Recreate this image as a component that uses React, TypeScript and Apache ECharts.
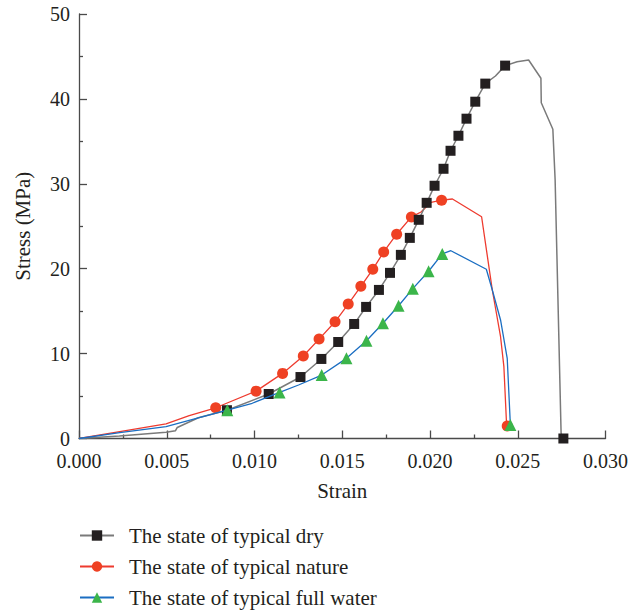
import React, { useEffect, useRef } from "react";
import * as echarts from "echarts";

const seriesNames = [
  "The state of typical dry",
  "The state of typical nature",
  "The state of typical full water",
];

// Dry
const dryStrain = [0, 0.0023, 0.00496, 0.0055, 0.0056, 0.0068, 0.00843, 0.01081, 0.01262, 0.01381, 0.01477, 0.01568, 0.01636, 0.01709, 0.01772, 0.01834, 0.01885, 0.01936, 0.01981, 0.02026, 0.02077, 0.02117, 0.02162, 0.02208, 0.02258, 0.02315, 0.02373, 0.02428, 0.02496, 0.02562, 0.02632, 0.02634, 0.027, 0.02713, 0.02747, 0.0276];
const dryStress = [0, 0.29, 0.73, 0.92, 1.3, 2.45, 3.33, 5.24, 7.24, 9.37, 11.37, 13.49, 15.5, 17.5, 19.51, 21.63, 23.63, 25.76, 27.76, 29.77, 31.77, 33.89, 35.66, 37.67, 39.67, 41.8, 42.7, 43.92, 44.38, 44.58, 42.43, 39.55, 36.42, 30.45, 0.61, 0];
const dryMarker = [0, 0, 0, 0, 0, 0, 1, 1, 1, 1, 1, 1, 1, 1, 1, 1, 1, 1, 1, 1, 1, 1, 1, 1, 1, 1, 0, 1, 0, 0, 0, 0, 0, 0, 0, 1];

// Nature
const natStrain = [0, 0.00232, 0.00496, 0.00628, 0.00779, 0.01009, 0.0116, 0.01278, 0.01368, 0.01459, 0.01534, 0.01606, 0.01674, 0.01736, 0.0181, 0.01894, 0.01949, 0.02006, 0.02066, 0.02128, 0.02294, 0.02355, 0.02402, 0.02421, 0.02436, 0.0244];
const natStress = [0, 0.82, 1.71, 2.7, 3.62, 5.58, 7.67, 9.71, 11.71, 13.75, 15.84, 17.93, 19.93, 21.97, 24.06, 26.1, 26.68, 27.82, 28.07, 28.21, 26.12, 17.49, 11.99, 8.46, 1.79, 1.47];
const natMarker = [0, 0, 0, 0, 1, 1, 1, 1, 1, 1, 1, 1, 1, 1, 1, 1, 0, 0, 1, 0, 0, 0, 0, 0, 0, 1];

// Full water
const wetStrain = [0, 0.00232, 0.00496, 0.00685, 0.00845, 0.00987, 0.01143, 0.01251, 0.01383, 0.01524, 0.01638, 0.01732, 0.01821, 0.01902, 0.01992, 0.0207, 0.02119, 0.02321, 0.02355, 0.02402, 0.0244, 0.02458];
const wetStress = [0, 0.7, 1.39, 2.45, 3.34, 4.15, 5.43, 6.3, 7.47, 9.44, 11.51, 13.57, 15.64, 17.65, 19.7, 21.74, 22.12, 19.93, 17.49, 13.96, 9.45, 1.59];
const wetMarker = [0, 0, 0, 0, 1, 0, 1, 0, 1, 1, 1, 1, 1, 1, 1, 1, 0, 0, 0, 0, 0, 1];

const xTicks = { min: 0, max: 0.03, interval: 0.005 };
const yTicks = { min: 0, max: 50, interval: 10 };

const FONT = "Liberation Serif";
const TEXT = "#231f20";
const AXIS = "#4a4a4a";

function build(xs: number[], ys: number[], ms: number[]) {
  return xs.map((x, i) =>
    ms[i] ? { value: [x, ys[i]] } : { value: [x, ys[i]], symbol: "none" }
  );
}

export default function App() {
  const ref = useRef<HTMLDivElement>(null);
  useEffect(() => {
    if (!ref.current) return;
    const chart = echarts.init(ref.current, undefined, { renderer: "svg" });
    const axisCommon = {
      axisLine: { show: true, lineStyle: { color: AXIS, width: 1.3 } },
      axisTick: { show: true, inside: true, length: 8, lineStyle: { color: AXIS, width: 1.3 } },
      minorTick: { show: true, splitNumber: 2, length: 4, lineStyle: { color: AXIS, width: 1.3 } },
      splitLine: { show: false },
      nameTextStyle: { fontFamily: FONT, fontSize: 21, color: TEXT },
    };
    chart.setOption({
      animation: false,
      backgroundColor: "#fff",
      grid: { left: 79, right: 22, top: 14, bottom: 173.5, containLabel: false },
      xAxis: {
        type: "value",
        ...xTicks,
        name: "Strain",
        nameLocation: "middle",
        nameGap: 42,
        ...axisCommon,
        axisLabel: {
          fontFamily: FONT,
          fontSize: 20,
          color: TEXT,
          margin: 12,
          formatter: (v: number) => v.toFixed(3),
        },
      },
      yAxis: {
        type: "value",
        ...yTicks,
        name: "Stress (MPa)",
        nameLocation: "middle",
        nameGap: 46,
        ...axisCommon,
        axisLabel: { fontFamily: FONT, fontSize: 20, color: TEXT, margin: 9 },
      },
      legend: {
        orient: "vertical",
        left: 79,
        top: 525,
        padding: 0,
        itemWidth: 34,
        itemHeight: 13,
        itemGap: 10,
        textStyle: { fontFamily: FONT, fontSize: 21, color: TEXT, padding: [0, 0, 0, 10] },
        data: seriesNames,
      },
      series: [
        {
          name: seriesNames[0],
          type: "line",
          data: build(dryStrain, dryStress, dryMarker),
          symbol: "rect",
          symbolSize: 10,
          showAllSymbol: true,
          lineStyle: { color: "#7a7a7a", width: 1.5 },
          itemStyle: { color: "#231f20" },
          z: 3,
        },
        {
          name: seriesNames[1],
          type: "line",
          data: build(natStrain, natStress, natMarker),
          symbol: "circle",
          symbolSize: 11,
          showAllSymbol: true,
          lineStyle: { color: "#ee3b2f", width: 1.3 },
          itemStyle: { color: "#ef4123" },
          z: 2,
        },
        {
          name: seriesNames[2],
          type: "line",
          data: build(wetStrain, wetStress, wetMarker),
          symbol: "triangle",
          symbolSize: 12,
          showAllSymbol: true,
          lineStyle: { color: "#1b6ec2", width: 1.3 },
          itemStyle: { color: "#3bb54a" },
          z: 4,
        },
      ],
    });
    return () => chart.dispose();
  }, []);
  return (
    <div
      ref={ref}
      style={{ position: "fixed", left: 0, top: 0, width: 631, height: 612 }}
    />
  );
}
